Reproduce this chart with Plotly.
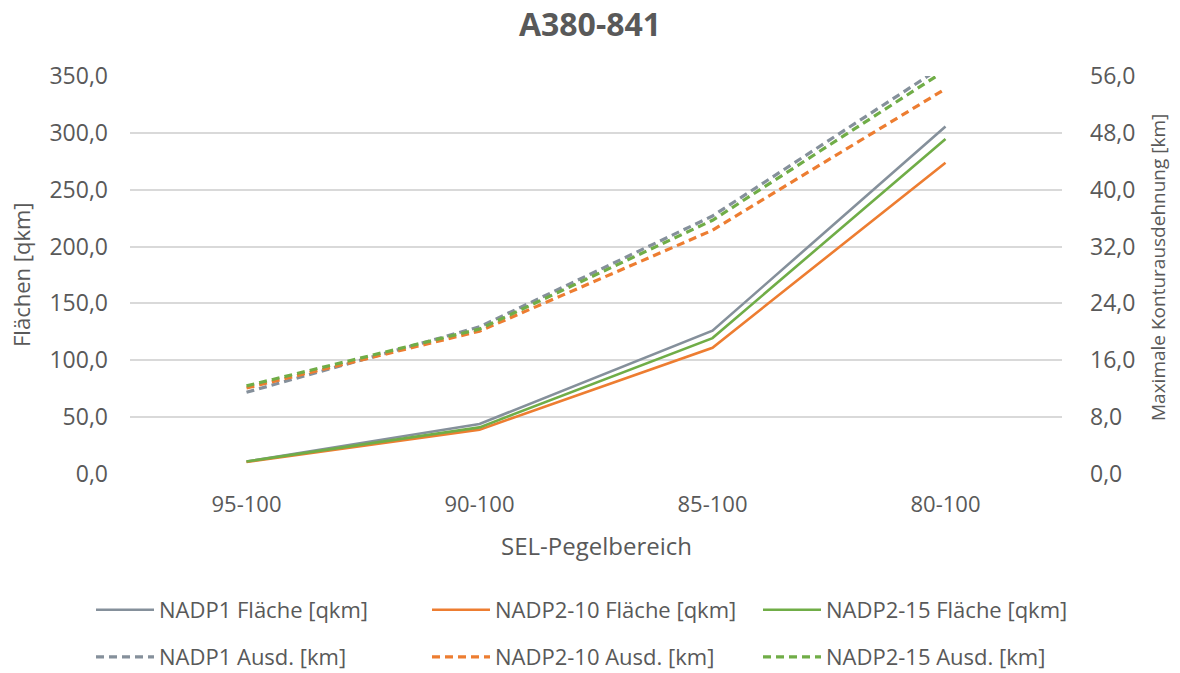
import plotly.graph_objects as go

categories = ["95-100", "90-100", "85-100", "80-100"]

nadp1_flaeche = [11.0, 44.0, 126.0, 305.5]
nadp2_10_flaeche = [10.5, 39.0, 111.0, 273.8]
nadp2_15_flaeche = [11.0, 41.0, 119.5, 294.6]

nadp1_ausd = [11.5, 20.7, 36.3, 57.6]
nadp2_10_ausd = [12.1, 20.1, 34.3, 54.2]
nadp2_15_ausd = [12.4, 20.4, 35.7, 56.8]

C_GRAY = "#85909b"
C_ORANGE = "#ed7d31"
C_GREEN = "#70ad47"
TXT = "#595959"
FONT = "Open Sans"

W, H = 1180, 673
L, R, T, B = 130, 118, 76, 199

legend_x = [91 / W, 427 / W, 758 / W]
legend_y = [1 - 610 / H, 1 - 657 / H]

fig = go.Figure()
solid = [
    ("NADP1 Fläche [qkm]", nadp1_flaeche, C_GRAY),
    ("NADP2-10 Fläche [qkm]", nadp2_10_flaeche, C_ORANGE),
    ("NADP2-15 Fläche [qkm]", nadp2_15_flaeche, C_GREEN),
]
dashed = [
    ("NADP1 Ausd. [km]", nadp1_ausd, C_GRAY),
    ("NADP2-10 Ausd. [km]", nadp2_10_ausd, C_ORANGE),
    ("NADP2-15 Ausd. [km]", nadp2_15_ausd, C_GREEN),
]
k = 1
for name, vals, col in solid:
    fig.add_trace(go.Scatter(x=categories, y=vals, name=name, mode="lines",
                             line=dict(color=col, width=2.6), yaxis="y",
                             legend="legend" if k == 1 else f"legend{k}"))
    k += 1
for name, vals, col in dashed:
    fig.add_trace(go.Scatter(x=categories, y=vals, name=name, mode="lines",
                             line=dict(color=col, width=3.2, dash="8px,5px"), yaxis="y2",
                             legend=f"legend{k}"))
    k += 1

legend_layout = {}
for i in range(6):
    key = "legend" if i == 0 else f"legend{i + 1}"
    legend_layout[key] = dict(
        xref="container", yref="container",
        x=legend_x[i % 3], xanchor="left",
        y=legend_y[i // 3], yanchor="middle",
        orientation="h", itemwidth=58,
        font=dict(size=22, color=TXT, family=FONT),
        bgcolor="rgba(0,0,0,0)",
    )

fig.update_layout(
    width=W, height=H,
    paper_bgcolor="white", plot_bgcolor="white",
    separators=",.",
    font=dict(family=FONT, color=TXT, size=22),
    title=dict(text="<b>A380-841</b>", x=0.5, xanchor="center", xref="container",
               yref="container", y=1 - 25 / H, yanchor="middle",
               font=dict(size=32, color=TXT, family=FONT)),
    margin=dict(l=L, r=R, t=T, b=B, autoexpand=False),
    xaxis=dict(type="category", range=[-0.5, 3.5], showgrid=False, showline=False,
               ticks="", tickfont=dict(size=22, color=TXT), ticklabelstandoff=15),
    yaxis=dict(range=[0, 350], dtick=50, tickformat=".1f", showgrid=True,
               gridcolor="#d9d9d9", gridwidth=1.5, zeroline=False, showline=False,
               ticks="", tickfont=dict(size=23, color=TXT), ticklabelstandoff=21),
    yaxis2=dict(range=[0, 56], dtick=8, tickformat=".1f", overlaying="y", side="right",
                showgrid=False, zeroline=False, showline=False, ticks="",
                tickfont=dict(size=23, color=TXT), ticklabelstandoff=27),
    showlegend=True,
    annotations=[
        dict(text="Flächen [qkm]", xref="paper", yref="paper", x=-(L - 21) / (W - L - R),
             y=(H - B - 275) / (H - T - B), textangle=-90, showarrow=False,
             xanchor="center", yanchor="middle", font=dict(size=22, color=TXT)),
        dict(text="Maximale Konturausdehnung [km]", xref="paper", yref="paper",
             x=1 + (1158 - (W - R)) / (W - L - R), y=(H - B - 268) / (H - T - B),
             textangle=-90, showarrow=False, xanchor="center", yanchor="middle",
             font=dict(size=19, color=TXT)),
        dict(text="SEL-Pegelbereich", xref="paper", yref="paper", x=(596 - L) / (W - L - R),
             y=-(545 - (H - B)) / (H - T - B), showarrow=False,
             xanchor="center", yanchor="middle", font=dict(size=24, color=TXT)),
    ],
    **legend_layout,
)

fig.write_html("out.html", config={"displayModeBar": False},
               post_script="document.body.style.margin='0';document.body.style.overflow='hidden';")
